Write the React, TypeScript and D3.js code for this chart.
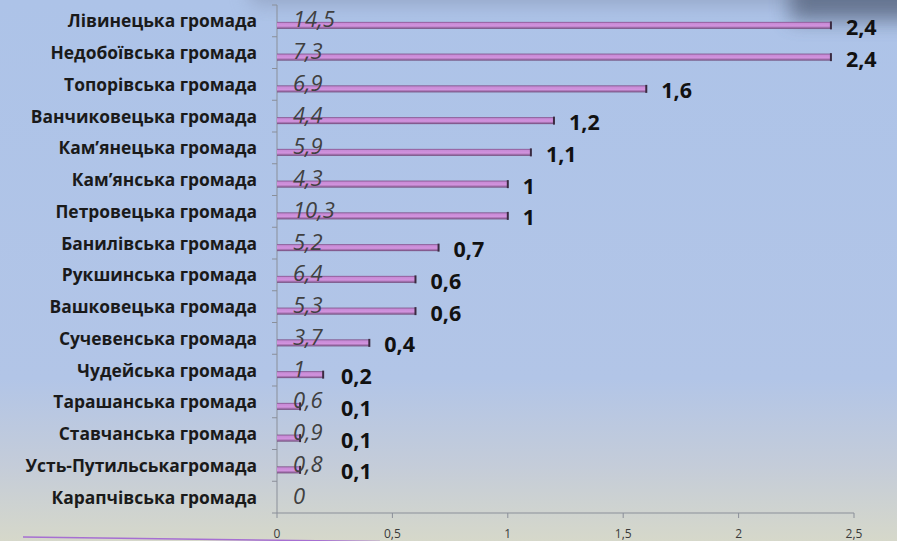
import React from "react";
import * as d3 from "d3";

const categories = [
  "Лівинецька громада",
  "Недобоївська громада",
  "Топорівська  громада",
  "Ванчиковецька громада",
  "Кам’янецька громада",
  "Кам’янська громада",
  "Петровецька громада",
  "Банилівська  громада",
  "Рукшинська  громада",
  "Вашковецька громада",
  "Сучевенська громада",
  "Чудейська громада",
  "Тарашанська  громада",
  "Ставчанська  громада",
  "Усть-Путильськагромада",
  "Карапчівська  громада",
];
const barValues = [2.4, 2.4, 1.6, 1.2, 1.1, 1, 1, 0.7, 0.6, 0.6, 0.4, 0.2, 0.1, 0.1, 0.1, 0];
const italicLabels = ["14,5", "7,3", "6,9", "4,4", "5,9", "4,3", "10,3", "5,2", "6,4", "5,3", "3,7", "1", "0,6", "0,9", "0,8", "0"];
const xTicks = [0, 0.5, 1, 1.5, 2, 2.5];

const W = 897;
const H = 541;
const fmt = (v: number) => String(v).replace(".", ",");

export default function App() {
  const x = d3.scaleLinear().domain([0, 2.5]).range([277, 854]);
  const y = d3.scaleBand<string>().domain(categories).range([5, 513]);
  const bw = y.bandwidth();
  const boundaries = d3.range(categories.length + 1).map((i) => 5 + i * bw);
  const barH = 7;

  return (
    <div style={{ position: "fixed", left: 0, top: 0 }}>
      <svg width={W} height={H} style={{ display: "block" }}>
        <defs>
          <linearGradient id="bg" x1="0" y1="0" x2="0" y2="1">
            <stop offset="0%" stopColor="#adc3e8" />
            <stop offset="70%" stopColor="#b2c5e7" />
            <stop offset="86%" stopColor="#c4ccd9" />
            <stop offset="100%" stopColor="#d6d8ca" />
          </linearGradient>
          <linearGradient id="bar" x1="0" y1="0" x2="0" y2="1">
            <stop offset="0%" stopColor="#7b4f86" />
            <stop offset="22%" stopColor="#c88bd6" />
            <stop offset="60%" stopColor="#d293de" />
            <stop offset="100%" stopColor="#6e4a78" />
          </linearGradient>
          <filter id="blur" x="-50%" y="-50%" width="200%" height="200%">
            <feGaussianBlur stdDeviation="10" />
          </filter>
        </defs>
        <rect x={0} y={0} width={W} height={H} fill="url(#bg)" />
        <rect x={250} y={-30} width={560} height={34} fill="#8391ad" filter="url(#blur)" opacity={0.6} />
        <rect x={790} y={-40} width={160} height={60} fill="#5f6d87" filter="url(#blur)" opacity={0.9} />

        {/* y axis */}
        <line x1={277} x2={277} y1={5} y2={513} stroke="#8a8f99" strokeWidth={1} />
        {boundaries.map((b, i) => (
          <line key={"yt" + i} x1={272} x2={277} y1={b} y2={b} stroke="#8a8f99" strokeWidth={1} />
        ))}
        {/* x axis */}
        <line x1={277} x2={854} y1={513} y2={513} stroke="#8a8f99" strokeWidth={1} />
        {xTicks.map((t) => (
          <g key={"xt" + t}>
            <line x1={x(t)} x2={x(t)} y1={513} y2={518} stroke="#8a8f99" strokeWidth={1} />
            <text x={x(t)} y={538} textAnchor="middle" fontFamily="'Open Sans', sans-serif" fontSize={12} fill="#3a3a3a">
              {fmt(t)}
            </text>
          </g>
        ))}

        {categories.map((c, i) => {
          const cy = (y(c) as number) + bw / 2;
          const v = barValues[i];
          const xe = x(v);
          return (
            <g key={c}>
              <text
                x={257}
                y={cy + 6.5}
                textAnchor="end"
                fontFamily="'Open Sans', sans-serif"
                fontWeight={700}
                fontSize={17.4}
                fill="#1a1a1a"
              >
                {c}
              </text>
              {v > 0 && (
                <>
                  <rect x={x(0)} y={cy + 4.5 - barH / 2} width={xe - x(0)} height={barH} fill="url(#bar)" />
                  <line x1={xe} x2={xe} y1={cy + 4.5 - barH / 2 - 0.5} y2={cy + 4.5 + barH / 2 + 0.5} stroke="#3a2a40" strokeWidth={2} />
                </>
              )}
              <text
                x={293}
                y={cy + 6.5}
                fontFamily="'Open Sans', sans-serif"
                fontStyle="italic"
                fontSize={22}
                fill="#404040"
              >
                {italicLabels[i]}
              </text>
              {v > 0 && (
                <text
                  x={Math.max(xe + 15, 341)}
                  y={cy + 14}
                  fontFamily="'Open Sans', sans-serif"
                  fontWeight={700}
                  fontSize={21.5}
                  fill="#111"
                >
                  {fmt(v)}
                </text>
              )}
            </g>
          );
        })}

        <line x1={23} y1={537} x2={380} y2={541.5} stroke="#a66fd2" strokeWidth={1.5} />
      </svg>
    </div>
  );
}
